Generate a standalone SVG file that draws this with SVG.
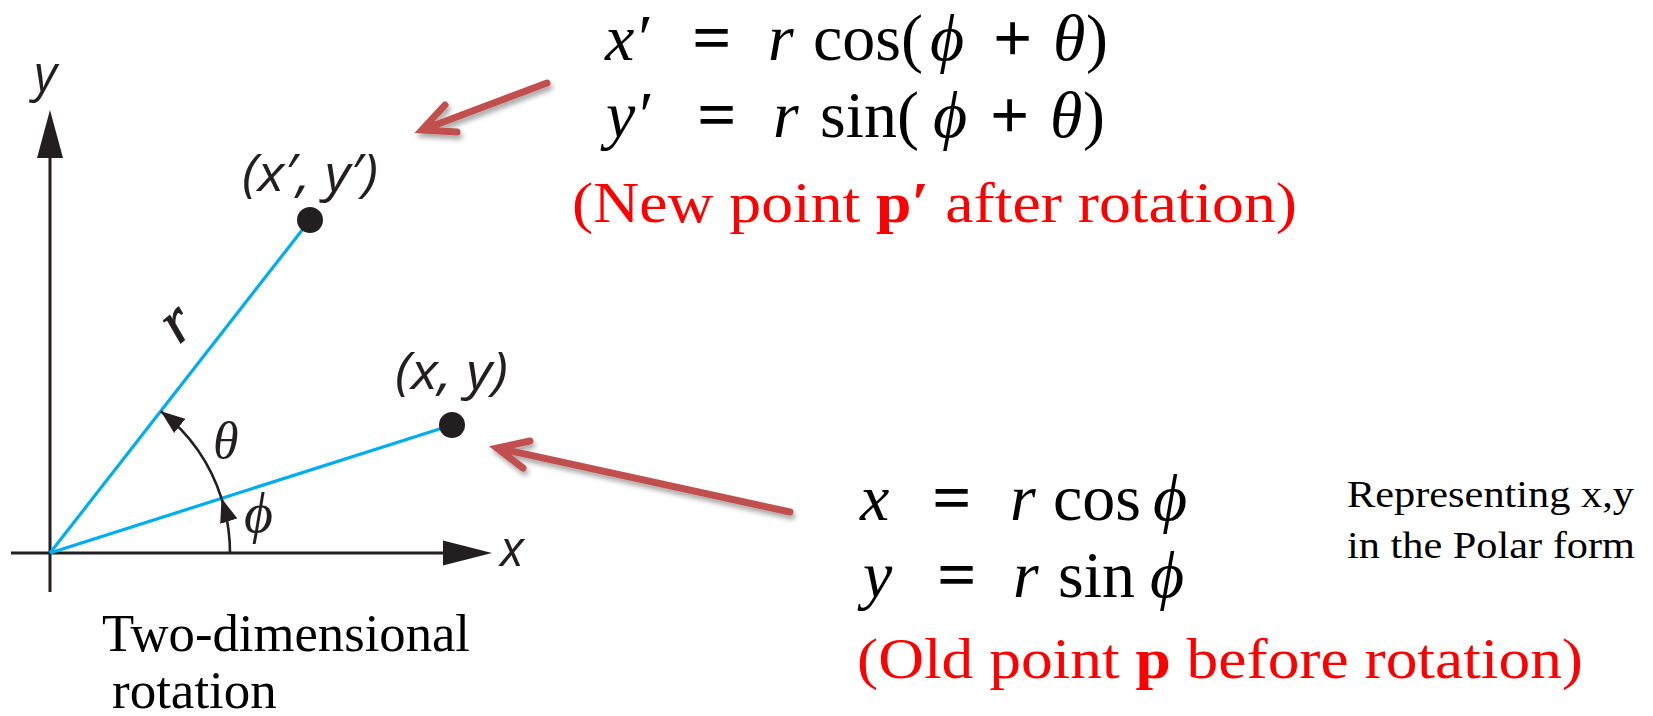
<svg xmlns="http://www.w3.org/2000/svg" width="1653" height="716" viewBox="0 0 1653 716">
  <style>
    .axis { stroke: #231f20; stroke-width: 3; fill: none; }
    .ray { stroke: #00aeef; stroke-width: 3.2; fill: none; }
    .arc { stroke: #231f20; stroke-width: 2.6; fill: none; marker-end: url(#arcHead); }
    .red { stroke: #c0504d; stroke-width: 7; fill: none; stroke-linecap: round; stroke-linejoin: miter; filter: url(#shadow); }
    .lbl { font-family: "Open Sans", "Liberation Sans", sans-serif; font-style: italic; fill: #231f20; }
    .greek { font-family: "Liberation Serif", serif; font-style: italic; fill: #231f20; }
    .eq { font-family: "Liberation Serif", serif; font-size: 66px; fill: #000; }
    .it { font-style: italic; }
    .op { stroke: #000; stroke-width: 1.4; }
    .redtxt { font-family: "Liberation Serif", serif; font-size: 58px; fill: #ff0000; }
    .note { font-family: "Liberation Serif", serif; font-size: 37px; fill: #000; }
    .cap { font-family: "Liberation Serif", serif; font-size: 53px; fill: #000; }
  </style>
  <defs>
    <marker id="arcHead" markerUnits="userSpaceOnUse" viewBox="0 0 24 18" refX="24" refY="9" markerWidth="24" markerHeight="18" orient="auto">
      <path d="M0,0 L24,9 L0,18 z" fill="#231f20"/>
    </marker>
    <filter id="shadow" x="-20%" y="-50%" width="140%" height="200%">
      <feDropShadow dx="2" dy="4" stdDeviation="2.5" flood-color="#000" flood-opacity="0.35"/>
    </filter>
  </defs>
  <rect width="1653" height="716" fill="#ffffff"/>

  <g id="axes">
    <line class="axis" x1="50" y1="592" x2="50" y2="156"/>
    <path d="M37,158 L63,158 L50,110 z" fill="#231f20"/>
    <line class="axis" x1="11" y1="553" x2="445" y2="553"/>
    <path d="M443,540.5 L443,565.5 L492,553 z" fill="#231f20"/>
    <text class="lbl" x="34" y="91" font-size="50">y</text>
    <text class="lbl" x="500" y="566" font-size="50">x</text>
  </g>

  <g id="connectors">
    <line class="ray" x1="50" y1="553" x2="310" y2="220"/>
    <line class="ray" x1="50" y1="553" x2="452" y2="425"/>
    <path class="arc" d="M230,553 A180,180 0 0 0 221.5,498.3"/>
    <path class="arc" d="M221.5,498.3 A180,180 0 0 0 160.8,411.2"/>
    <path class="red" d="M547,83 L422,130 M445,105 L422,130 L457,132"/>
    <path class="red" d="M790,512 L497,448 M530,441 L497,448 L523,468"/>
  </g>

  <g id="point-new">
    <circle cx="310" cy="220" r="13" fill="#231f20"/>
    <text class="lbl" x="242" y="191" font-size="52" textLength="136" lengthAdjust="spacingAndGlyphs">(x′, y′)</text>
  </g>

  <g id="point-old">
    <circle cx="452" cy="425" r="13" fill="#231f20"/>
    <text class="lbl" x="395" y="389" font-size="52" textLength="113" lengthAdjust="spacingAndGlyphs">(x, y)</text>
  </g>

  <g id="angle-labels">
    <text class="greek" x="0" y="0" font-size="62" text-anchor="middle" stroke="#231f20" stroke-width="1" transform="translate(188,337) rotate(-40)">r</text>
    <text class="greek" x="213" y="458" font-size="52">θ</text>
    <text class="greek" x="244" y="532" font-size="56">ϕ</text>
  </g>

  <g id="new-equations">
    <text class="eq" y="60"><tspan class="it" x="605">x′</tspan><tspan class="op" x="693">=</tspan><tspan class="it" x="768">r</tspan><tspan x="813">cos(</tspan><tspan class="it" x="930">ϕ</tspan><tspan class="op" x="994">+</tspan><tspan class="it" x="1053">θ</tspan><tspan x="1086">)</tspan></text>
    <text class="eq" y="137"><tspan class="it" x="606">y′</tspan><tspan class="op" x="698">=</tspan><tspan class="it" x="773">r</tspan><tspan x="820">sin(</tspan><tspan class="it" x="933">ϕ</tspan><tspan class="op" x="991">+</tspan><tspan class="it" x="1050">θ</tspan><tspan x="1083">)</tspan></text>
    <text class="redtxt" x="572" y="222" textLength="725" lengthAdjust="spacingAndGlyphs">(New point <tspan font-weight="bold">p′</tspan> after rotation)</text>
  </g>

  <g id="old-equations">
    <text class="eq" y="520"><tspan class="it" x="860">x</tspan><tspan class="op" x="933">=</tspan><tspan class="it" x="1010">r</tspan><tspan x="1053">cos</tspan><tspan class="it" x="1153">ϕ</tspan></text>
    <text class="eq" y="597"><tspan class="it" x="863">y</tspan><tspan class="op" x="938">=</tspan><tspan class="it" x="1013">r</tspan><tspan x="1058">sin</tspan><tspan class="it" x="1150">ϕ</tspan></text>
    <text class="redtxt" x="857" y="678" textLength="726" lengthAdjust="spacingAndGlyphs">(Old point <tspan font-weight="bold">p</tspan> before rotation)</text>
  </g>

  <g id="polar-note">
    <text class="note" x="1347" y="507" textLength="287" lengthAdjust="spacingAndGlyphs">Representing x,y</text>
    <text class="note" x="1347" y="558" textLength="288" lengthAdjust="spacingAndGlyphs">in the Polar form</text>
  </g>

  <g id="caption">
    <text class="cap" x="102" y="651" textLength="368" lengthAdjust="spacingAndGlyphs">Two-dimensional</text>
    <text class="cap" x="112" y="708">rotation</text>
  </g>
</svg>
